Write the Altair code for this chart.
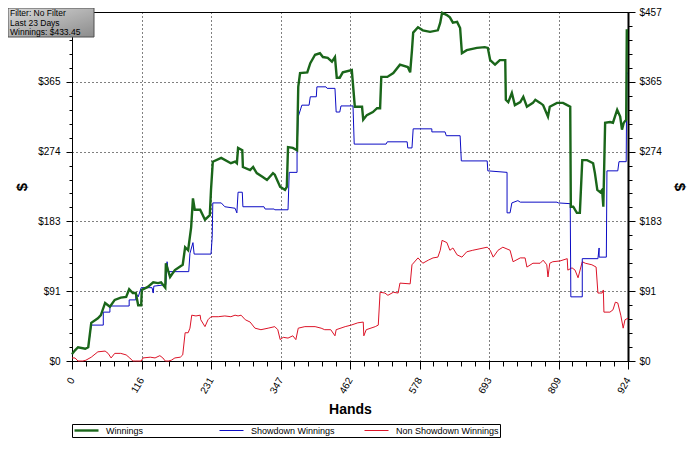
import json
import altair as alt
import pandas as pd

# ---------------- data ----------------
series_names = ["Winnings", "Showdown Winnings", "Non Showdown Winnings"]
series_colors = ["#1a661a", "#0c0cc4", "#dc1428"]
series_widths = [2.4, 1.0, 1.0]

x_tick_labels = ["0", "116", "231", "347", "462", "578", "693", "809", "924"]
y_tick_labels = ["$0", "$91", "$183", "$274", "$365", "$457"]
x_max = 924
y_max = 457

info_lines = ["Filter: No Filter", "Last  23 Days", "Winnings: $433.45"]

win_hands = [0, 5, 10, 22, 27, 32, 43, 48, 55, 63, 71, 81, 90, 95, 101, 106, 110, 115, 116, 126,
             135, 143, 148, 155, 156, 163, 171, 184, 188, 193, 198, 201, 204, 213, 221, 229, 231, 234, 248, 264,
             271, 274, 276, 283, 284, 296, 301, 307, 317, 324, 334, 337, 346, 354, 357, 359, 367, 374, 376, 379,
             391, 396, 404, 412, 417, 425, 432, 437, 440, 445, 450, 465, 470, 475, 482, 484, 490, 500, 507, 512,
             514, 524, 534, 545, 558, 562, 565, 567, 575, 583, 595, 608, 612, 615, 623, 628, 633, 640, 645, 648,
             656, 673, 686, 691, 695, 703, 711, 720, 721, 725, 731, 736, 745, 750, 756, 766, 770, 778, 783, 791,
             794, 806, 816, 823, 828, 829, 833, 839, 844, 848, 856, 866, 869, 873, 878, 881, 883, 886, 894, 899,
             906, 911, 914, 917, 921, 922, 924]
win_values = [9, 14, 18, 16, 18, 50, 56, 60, 76, 71, 80, 83, 84, 94, 89, 89, 73, 73, 93, 97,
              103, 102, 103, 96, 128, 110, 119, 126, 149, 145, 175, 213, 198, 198, 185, 191, 224, 261, 266, 259,
              261, 259, 279, 276, 254, 250, 254, 246, 241, 237, 246, 244, 228, 224, 228, 280, 279, 276, 359, 377,
              378, 390, 401, 403, 398, 397, 392, 398, 371, 371, 378, 381, 333, 333, 333, 316, 322, 326, 331, 331,
              372, 372, 377, 388, 385, 378, 407, 430, 437, 433, 431, 433, 443, 456, 453, 450, 443, 444, 436, 403,
              407, 410, 411, 410, 394, 388, 394, 394, 342, 339, 351, 335, 339, 346, 333, 338, 342, 338, 335, 320,
              333, 338, 338, 335, 333, 202, 202, 194, 194, 263, 263, 259, 246, 224, 221, 224, 202, 312, 313, 312,
              329, 320, 303, 312, 316, 433, 433]

sd_hands = [0, 5, 10, 22, 27, 32, 52, 52, 63, 63, 95, 95, 106, 106, 110, 115, 133, 135, 136, 156,
            158, 160, 194, 196, 201, 203, 231, 233, 234, 248, 254, 271, 274, 276, 283, 284, 319, 321, 336, 337,
            359, 361, 374, 374, 376, 382, 394, 396, 406, 407, 422, 424, 437, 439, 445, 447, 467, 469, 522, 524,
            557, 558, 565, 567, 598, 598, 620, 622, 645, 647, 690, 691, 723, 723, 728, 731, 741, 745, 806, 808,
            828, 829, 848, 848, 874, 876, 876, 888, 889, 907, 909, 921, 922, 924]
sd_values = [9, 14, 18, 16, 18, 47, 47, 64, 64, 72, 72, 80, 80, 89, 84, 96, 96, 89, 98, 100,
             130, 117, 117, 141, 155, 140, 140, 162, 207, 207, 202, 200, 194, 221, 221, 202, 202, 199, 199, 198,
             198, 247, 247, 276, 320, 335, 335, 346, 346, 359, 359, 357, 357, 326, 326, 334, 334, 284, 284, 287,
             287, 279, 279, 304, 304, 300, 300, 295, 295, 262, 262, 249, 247, 194, 194, 207, 210, 208, 208, 207,
             206, 84, 84, 134, 134, 148, 136, 136, 249, 249, 261, 261, 377, 377]

nsd_hands = [0, 5, 10, 18, 23, 32, 43, 55, 60, 65, 71, 81, 90, 96, 101, 106, 115, 118, 130, 138,
             146, 151, 155, 160, 165, 171, 180, 184, 188, 193, 196, 199, 206, 213, 214, 221, 226, 231, 243, 254,
             264, 271, 276, 281, 288, 296, 304, 314, 326, 337, 342, 346, 351, 359, 367, 372, 376, 387, 404, 414,
             420, 430, 437, 439, 454, 464, 475, 484, 485, 489, 504, 509, 512, 520, 525, 534, 542, 545, 562, 565,
             575, 583, 592, 600, 608, 612, 615, 623, 628, 633, 640, 648, 656, 666, 678, 690, 695, 700, 708, 716,
             728, 733, 745, 753, 756, 766, 778, 783, 789, 791, 794, 799, 811, 823, 824, 831, 836, 841, 848, 853,
             864, 871, 874, 881, 883, 884, 894, 899, 903, 907, 912, 916, 919, 924]
nsd_values = [4, 4, 0, 0, 1, 5, 12, 13, 10, 4, 10, 10, 8, 4, 0, 0, 0, 4, 5, 4,
              7, 4, 0, 0, 1, 4, 5, 8, 37, 37, 43, 60, 59, 60, 54, 45, 54, 58, 58, 59,
              58, 60, 59, 60, 54, 51, 43, 41, 43, 45, 41, 28, 31, 30, 33, 28, 43, 45, 45, 43,
              41, 41, 33, 41, 45, 47, 50, 51, 33, 41, 45, 47, 90, 89, 86, 90, 89, 102, 101, 126,
              135, 128, 132, 135, 136, 145, 158, 155, 145, 148, 139, 136, 143, 145, 147, 149, 145, 136, 145, 149,
              145, 130, 135, 135, 123, 128, 128, 132, 126, 110, 128, 130, 131, 134, 119, 122, 119, 109, 130, 128,
              126, 123, 89, 89, 93, 64, 64, 67, 77, 76, 60, 43, 54, 56]

# ---------------- table ----------------
rows = []
for name, hs, vs in zip(series_names,
                        [win_hands, sd_hands, nsd_hands],
                        [win_values, sd_values, nsd_values]):
    for i, (h, v) in enumerate(zip(hs, vs)):
        rows.append({"series": name, "hand": h, "value": v, "idx": i})
df = pd.DataFrame(rows)

FONT = "Liberation Sans"

x_vals = [i * x_max / 40 for i in range(41)]
y_vals = [i * y_max / 25 for i in range(26)]
x_major = f"round(datum.value*40/{x_max}) % 5 == 0"
y_major = f"round(datum.value*25/{y_max}) % 5 == 0"
x_label_expr = f"{x_major} ? {json.dumps(x_tick_labels)}[round(datum.value*8/{x_max})] : ''"
y_label_expr = f"{y_major} ? {json.dumps(y_tick_labels)}[round(datum.value*5/{y_max})] : ''"
# the top-left info box hides the topmost label of the left axis
y_left_label_expr = f"round(datum.value*5/{y_max}) >= 5 ? '' : ({y_label_expr})"

x_enc = alt.X(
    "hand:Q",
    scale=alt.Scale(domain=[0, x_max], nice=False, zero=False),
    axis=alt.Axis(
        values=x_vals, labelExpr=x_label_expr, labelAngle=-60, labelAlign="right",
        labelBaseline="middle", labelPadding=9, labelOverlap=False, labelFlush=False,
        labelFont=FONT, labelFontSize=10, labelColor="black",
        tickSize={"condition": {"test": x_major, "value": 8}, "value": 5},
        tickColor="black", domainColor="black",
        grid=True, gridColor="black", gridDash=[1, 3],
        gridOpacity={"condition": {"test": x_major, "value": 1}, "value": 0},
        title="Hands", titleFont=FONT, titleFontSize=14, titleFontWeight="bold",
        titleColor="black", titlePadding=8,
    ),
)

y_scale = alt.Scale(domain=[0, y_max], nice=False, zero=False)

y_left = alt.Y(
    "value:Q", scale=y_scale,
    axis=alt.Axis(
        orient="left", values=y_vals, labelExpr=y_left_label_expr, labelPadding=6,
        labelFont=FONT, labelFontSize=10, labelColor="black",
        tickSize={"condition": {"test": y_major, "value": 6}, "value": 3},
        tickColor="black", domainColor="black",
        grid=True, gridColor="black", gridDash=[1, 3],
        gridOpacity={"condition": {"test": y_major, "value": 1}, "value": 0},
        title="$", titleFont=FONT, titleFontSize=15, titleFontWeight="bold",
        titleColor="black", titlePadding=8,
    ),
)

y_right = alt.Y(
    "value:Q", scale=y_scale,
    axis=alt.Axis(
        orient="right", values=y_vals, labelExpr=y_label_expr, labelPadding=4,
        labelFont=FONT, labelFontSize=10, labelColor="black",
        tickSize={"condition": {"test": y_major, "value": 7}, "value": 4},
        tickColor="black", domainColor="black", domainWidth=2,
        grid=False,
        title="$", titleFont=FONT, titleFontSize=15, titleFontWeight="bold",
        titleColor="black", titlePadding=10,
    ),
)

color_enc = alt.Color("series:N", scale=alt.Scale(domain=series_names, range=series_colors),
                      title=None)
width_enc = alt.StrokeWidth("series:N",
                            scale=alt.Scale(type="ordinal", domain=series_names, range=series_widths),
                            title=None)

base = alt.Chart(df)


def series_layer(name):
    return base.transform_filter(alt.datum.series == name).mark_line(interpolate="linear").encode(
        x=x_enc, y=y_left, color=color_enc, strokeWidth=width_enc, order="idx:Q"
    )


lines = alt.layer(series_layer(series_names[2]), series_layer(series_names[1]),
                  series_layer(series_names[0]))

right_axis = base.mark_line(opacity=0).encode(x=x_enc, y=y_right, detail="series:N", order="idx:Q")

box = alt.Chart(pd.DataFrame({"k": [0]})).mark_rect(
    color=alt.LinearGradient(gradient="linear", x1=0, y1=0, x2=1, y2=1,
                             stops=[alt.GradientStop(color="#d8d8d8", offset=0),
                                    alt.GradientStop(color="#8c8c8c", offset=1)]),
    stroke="#505050", strokeWidth=1,
).encode(x=alt.value(-64), x2=alt.value(22), y=alt.value(-4), y2=alt.value(25))

info = alt.Chart(pd.DataFrame({"k": [0]})).mark_text(
    align="left", baseline="top", font=FONT, fontSize=8.5, color="black",
    lineBreak="\n", lineHeight=9.5,
).encode(x=alt.value(-62), y=alt.value(-3), text=alt.value("\n".join(info_lines)))

chart = alt.layer(lines, right_axis, box, info).resolve_scale(y="independent").properties(
    width=556, height=349,
    autosize=alt.AutoSizeParams(type="none"),
    padding={"left": 64, "top": 4, "right": 64, "bottom": 80},
    background="white",
).configure_view(stroke="black", strokeWidth=1).configure_legend(
    orient="none", legendX=0, legendY=412, direction="horizontal", columns=3,
    gridAlign="all", columnPadding=9, strokeColor="black", padding=1,
    labelFont=FONT, labelFontSize=9, labelColor="black", labelOffset=6,
    symbolType="stroke", symbolSize=576, clipHeight=11,
)

chart.save("out.html", embed_options={"renderer": "svg", "actions": False})
